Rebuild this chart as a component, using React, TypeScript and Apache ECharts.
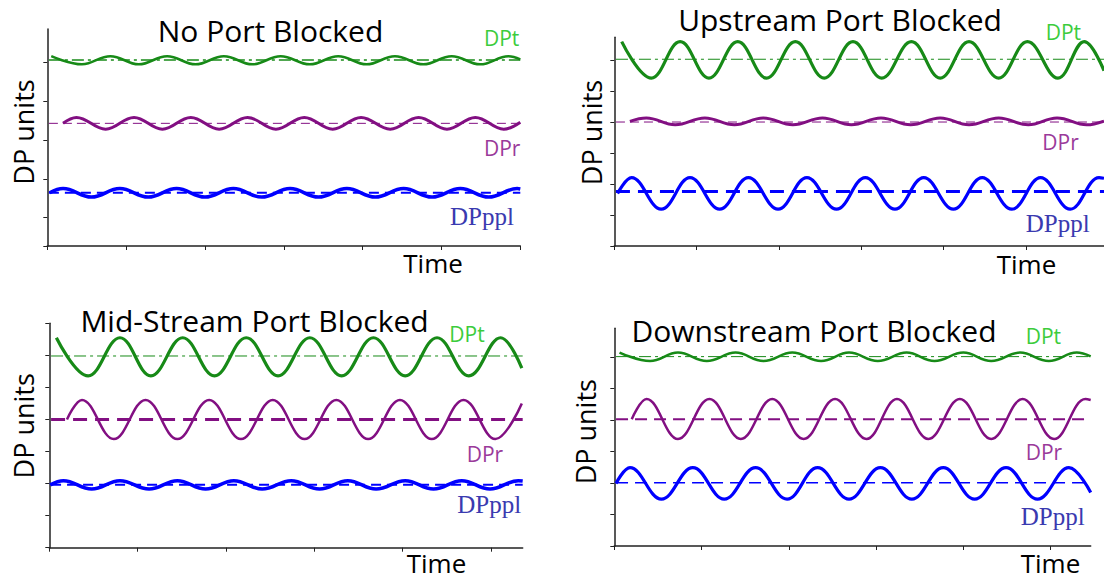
import React, { useEffect, useRef } from "react";
import * as echarts from "echarts";

// ---------- text ----------
const panelTitles = ["No Port Blocked", "Upstream Port Blocked", "Mid-Stream Port Blocked", "Downstream Port Blocked"];
const signalNames = ["DPt", "DPr", "DPppl"];
const yAxisName = "DP units";
const xAxisName = "Time";

// ---------- axis ranges (tick interval = 1 unit) ----------
const xMax = [6, 5.95, 5.36, 5.46];
const xTicks = [[0, 1, 2, 3, 4, 5, 6], [0, 1, 2, 3, 4, 5], [0, 1, 2, 3, 4, 5], [0, 1, 2, 3, 4, 5]];
const yMin = [0.27, 0, 0, 0];
const yMax = [5.86, 6.75, 7, 6.92];
const yTicks = [[0.27, 1, 2, 3, 4, 5], [0, 1, 2, 3, 4, 5, 6], [0, 1, 2, 3, 4, 5, 6, 7], [0, 1, 2, 3, 4, 5, 6]];

// ---------- signals: [time, DP] read at start, peaks, troughs, end ----------
// No Port Blocked
const noPortDPt = [[0.05, 5.16], [0.44, 4.95], [0.80, 5.16], [1.16, 4.95], [1.52, 5.16], [1.88, 4.95], [2.24, 5.16], [2.60, 4.95], [2.96, 5.16], [3.33, 4.95], [3.69, 5.16], [4.05, 4.95], [4.41, 5.16], [4.77, 4.95], [5.13, 5.16], [5.49, 4.95], [5.85, 5.16], [6.0, 5.08]];
const noPortDPr = [[0.20, 3.43], [0.37, 3.58], [0.74, 3.28], [1.10, 3.58], [1.46, 3.28], [1.82, 3.58], [2.18, 3.28], [2.54, 3.58], [2.90, 3.28], [3.26, 3.58], [3.62, 3.28], [3.98, 3.58], [4.35, 3.28], [4.71, 3.58], [5.07, 3.28], [5.43, 3.58], [5.79, 3.28], [6.0, 3.46]];
const noPortDPppl = [[0.03, 1.64], [0.20, 1.75], [0.56, 1.53], [0.92, 1.75], [1.28, 1.53], [1.64, 1.75], [2.00, 1.53], [2.36, 1.75], [2.72, 1.53], [3.08, 1.75], [3.44, 1.53], [3.80, 1.75], [4.16, 1.53], [4.52, 1.75], [4.88, 1.53], [5.24, 1.75], [5.60, 1.53], [5.96, 1.75], [6.0, 1.74]];
const noPortMeans = [5.06, 3.43, 1.64];

// Upstream Port Blocked
const upstreamDPt = [[0.09, 6.61], [0.45, 5.43], [0.80, 6.61], [1.15, 5.43], [1.50, 6.61], [1.85, 5.43], [2.20, 6.61], [2.55, 5.43], [2.90, 6.61], [3.25, 5.43], [3.61, 6.61], [3.96, 5.43], [4.31, 6.61], [4.67, 5.43], [5.02, 6.61], [5.39, 5.43], [5.71, 6.61], [5.95, 5.67]];
const upstreamDPr = [[0.19, 4.03], [0.39, 4.14], [0.74, 3.92], [1.10, 4.14], [1.46, 3.92], [1.81, 4.14], [2.17, 3.92], [2.53, 4.14], [2.88, 3.92], [3.24, 4.14], [3.60, 3.92], [3.96, 4.14], [4.31, 3.92], [4.67, 4.14], [5.03, 3.92], [5.38, 4.14], [5.74, 3.92], [5.95, 4.04]];
const upstreamDPppl = [[0.04, 1.70], [0.21, 2.21], [0.57, 1.19], [0.92, 2.21], [1.28, 1.19], [1.63, 2.21], [1.99, 1.19], [2.34, 2.21], [2.70, 1.19], [3.05, 2.21], [3.41, 1.19], [3.76, 2.21], [4.12, 1.19], [4.47, 2.21], [4.83, 1.19], [5.18, 2.21], [5.54, 1.19], [5.89, 2.21], [5.95, 2.19]];
const upstreamMeans = [6.04, 4.01, 1.76];

// Mid-Stream Port Blocked
const midstreamDPt = [[0.08, 6.55], [0.44, 5.36], [0.80, 6.55], [1.15, 5.36], [1.51, 6.55], [1.87, 5.36], [2.23, 6.55], [2.59, 5.36], [2.95, 6.55], [3.31, 5.36], [3.67, 6.55], [4.03, 5.36], [4.39, 6.55], [4.75, 5.36], [5.11, 6.55], [5.35, 5.60]];
const midstreamDPr = [[0.20, 4.00], [0.37, 4.61], [0.73, 3.39], [1.09, 4.61], [1.45, 3.39], [1.81, 4.61], [2.17, 3.39], [2.53, 4.61], [2.89, 3.39], [3.25, 4.61], [3.61, 3.39], [3.97, 4.61], [4.33, 3.39], [4.69, 4.61], [5.05, 3.39], [5.35, 4.50]];
const midstreamDPppl = [[0.01, 1.96], [0.16, 2.09], [0.48, 1.83], [0.80, 2.09], [1.13, 1.83], [1.45, 2.09], [1.77, 1.83], [2.09, 2.09], [2.41, 1.83], [2.74, 2.09], [3.06, 1.83], [3.38, 2.09], [3.70, 1.83], [4.03, 2.09], [4.35, 1.83], [4.67, 2.09], [4.99, 1.83], [5.31, 2.09], [5.36, 2.08]];
const midstreamMeans = [5.98, 4.00, 1.96];

// Downstream Port Blocked
const downstreamDPt = [[0.06, 6.15], [0.41, 5.88], [0.73, 6.15], [1.06, 5.88], [1.39, 6.15], [1.71, 5.88], [2.04, 6.15], [2.37, 5.88], [2.69, 6.15], [3.02, 5.88], [3.35, 6.15], [3.67, 5.88], [4.00, 6.15], [4.32, 5.88], [4.65, 6.15], [4.98, 5.88], [5.30, 6.15], [5.46, 6.03]];
const downstreamDPr = [[0.20, 4.03], [0.37, 4.67], [0.73, 3.40], [1.09, 4.67], [1.45, 3.40], [1.81, 4.67], [2.17, 3.40], [2.53, 4.67], [2.89, 3.40], [3.24, 4.67], [3.60, 3.40], [3.96, 4.67], [4.32, 3.40], [4.68, 4.67], [5.04, 3.40], [5.40, 4.67], [5.46, 4.64]];
const downstreamDPppl = [[0.02, 1.99], [0.18, 2.49], [0.54, 1.49], [0.90, 2.49], [1.26, 1.49], [1.62, 2.49], [1.98, 1.49], [2.33, 2.49], [2.69, 1.49], [3.05, 2.49], [3.41, 1.49], [3.77, 2.49], [4.13, 1.49], [4.49, 2.49], [4.85, 1.49], [5.21, 2.49], [5.46, 1.70]];
const downstreamMeans = [6.02, 4.03, 2.01];

const curves = [
  [noPortDPt, noPortDPr, noPortDPppl],
  [upstreamDPt, upstreamDPr, upstreamDPppl],
  [midstreamDPt, midstreamDPr, midstreamDPppl],
  [downstreamDPt, downstreamDPr, downstreamDPppl],
];
const means = [noPortMeans, upstreamMeans, midstreamMeans, downstreamMeans];

// ---------- layout & style ----------
const W = 1104;
const H = 581;
const grids = [
  { left: 47.3, top: 29, right: W - 520.3, bottom: H - 246 },
  { left: 614.3, top: 37.3, right: 0, bottom: H - 246 },
  { left: 49.3, top: 323.3, right: W - 522.7, bottom: H - 547.7 },
  { left: 614.3, top: 328.3, right: W - 1090.7, bottom: H - 546 },
];
const lineColors = ["#178a17", "#820f82", "#0000ff"];
const labelColors = ["#3ccc3c", "#9a3a9a", "#3a3ab0"];
const curveWidth = [[2.5, 3, 3.5], [3.2, 3, 3.2], [3.2, 2.5, 3.5], [2.5, 2.5, 3.2]];
const meanWidth = [[1.5, 1, 2], [1, 1, 3], [1, 3, 2], [1, 2, 1.5]];
const dashDot = [12, 4, 3, 4];
const meanDash = [
  [dashDot, [9, 5], [10, 6]],
  [dashDot, [9, 5], [14, 8]],
  [dashDot, [14, 8], [10, 6]],
  [dashDot, [12, 7], [12, 7]],
];
const titlePos = [[270.5, 30.5], [840, 19], [254.5, 320], [814, 330.5]];
const labelPos = [
  [[484, 38], [484, 147.5], [450, 216]],
  [[1045.7, 32], [1042.3, 141.7], [1025.7, 223.3]],
  [[449.3, 333.5], [466.7, 454.2], [457.3, 504.2]],
  [[1025.7, 335.5], [1025.7, 452.2], [1020.7, 516.2]],
];
const timePos = [[403.3, 262.5], [996.7, 264.2], [406.7, 563], [1020.7, 563]];
const unitsPos = [[23, 132], [591.7, 132.5], [23, 425.8], [585, 431.7]];

export default function App() {
  const ref = useRef<HTMLDivElement>(null);
  useEffect(() => {
    if (!ref.current) return;
    const chart = echarts.init(ref.current, undefined, { renderer: "svg" });

    const xAxis = grids.map((_, i) => ({
      type: "value",
      gridIndex: i,
      min: 0,
      max: xMax[i],
      interval: 1,
      axisLine: { show: true, lineStyle: { color: "#222", width: 1.5 } },
      axisTick: { show: true, inside: false, length: 4, customValues: xTicks[i], lineStyle: { color: "#222", width: 1 } },
      axisLabel: { show: false },
      splitLine: { show: false },
    }));
    const yAxis = grids.map((_, i) => ({
      type: "value",
      gridIndex: i,
      min: yMin[i],
      max: yMax[i],
      interval: 1,
      axisLine: { show: true, onZero: false, lineStyle: { color: "#222", width: 1.5 } },
      axisTick: { show: true, inside: false, length: 4, customValues: yTicks[i], lineStyle: { color: "#222", width: 1 } },
      axisLabel: { show: false },
      splitLine: { show: false },
    }));

    const series: any[] = [];
    curves.forEach((panel, p) => {
      panel.forEach((data, s) => {
        series.push({
          type: "line",
          name: signalNames[s],
          xAxisIndex: p,
          yAxisIndex: p,
          data,
          smooth: 0.4,
          showSymbol: false,
          symbol: "none",
          lineStyle: { color: lineColors[s], width: curveWidth[p][s] },
          z: 2,
        });
      });
      means[p].forEach((m, s) => {
        series.push({
          type: "line",
          name: signalNames[s] + " mean",
          xAxisIndex: p,
          yAxisIndex: p,
          data: [[0.02, m], [xMax[p], m]],
          showSymbol: false,
          symbol: "none",
          lineStyle: { color: lineColors[s], width: meanWidth[p][s], type: meanDash[p][s] },
          z: 3,
        });
      });
    });

    const graphic: any[] = [];
    panelTitles.forEach((t, p) => {
      graphic.push({
        type: "text",
        x: titlePos[p][0],
        y: titlePos[p][1],
        style: { text: t, font: "30px 'Open Sans'", fill: "#000", align: "center", verticalAlign: "middle" },
      });
      signalNames.forEach((n, s) => {
        graphic.push({
          type: "text",
          x: labelPos[p][s][0],
          y: labelPos[p][s][1],
          style: {
            text: n,
            font: s === 2 ? "25px 'Liberation Serif'" : "21px 'Open Sans'",
            fill: labelColors[s],
            align: "left",
            verticalAlign: "middle",
          },
        });
      });
      graphic.push({
        type: "text",
        x: timePos[p][0],
        y: timePos[p][1],
        style: { text: xAxisName, font: "26px 'Open Sans'", fill: "#000", align: "left", verticalAlign: "middle" },
      });
      graphic.push({
        type: "text",
        x: unitsPos[p][0],
        y: unitsPos[p][1],
        rotation: Math.PI / 2,
        style: { text: yAxisName, font: "27px 'Open Sans'", fill: "#000", align: "center", verticalAlign: "middle" },
      });
    });

    chart.setOption({
      animation: false,
      backgroundColor: "#fff",
      grid: grids.map((g) => ({ ...g, containLabel: false })),
      xAxis,
      yAxis,
      series,
      graphic,
    });
    return () => chart.dispose();
  }, []);
  return <div ref={ref} style={{ position: "fixed", left: 0, top: 0, width: W, height: H }} />;
}
